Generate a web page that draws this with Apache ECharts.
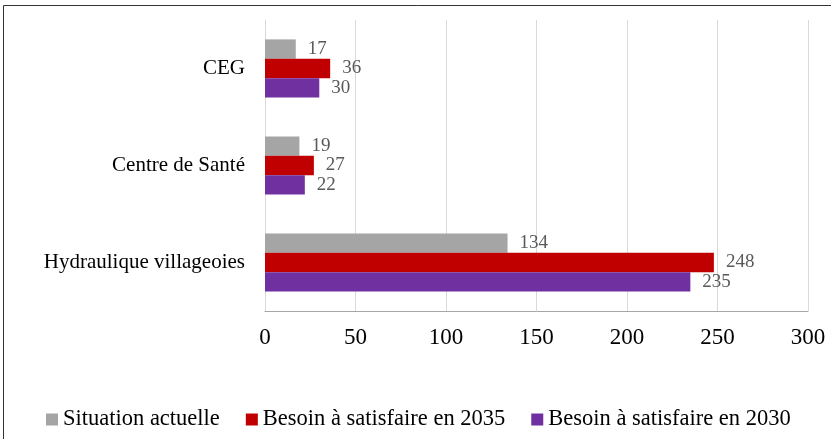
<!DOCTYPE html>
<html><head><meta charset="utf-8">
<script src="https://cdn.jsdelivr.net/npm/echarts@6/dist/echarts.min.js"></script>
<style>html,body{margin:0;padding:0;background:#fff}#c{width:831px;height:439px}</style>
</head><body><div id="c"></div>
<script>
var categories = ['Hydraulique villageoies', 'Centre de Santé', 'CEG'];
var seriesNames = ['Situation actuelle', 'Besoin à satisfaire en 2035', 'Besoin à satisfaire en 2030'];
var situationActuelle = [134, 19, 17];
var besoin2035 = [248, 27, 36];
var besoin2030 = [235, 22, 30];
var xTicks = [0, 50, 100, 150, 200, 250, 300];
var colors = ['#A5A5A5', '#C00000', '#7030A0'];
var values = [situationActuelle, besoin2035, besoin2030];
var font = '"Liberation Serif", "Times New Roman", serif';
var chart = echarts.init(document.getElementById('c'));
chart.setOption({
  animation: false,
  textStyle: {fontFamily: font},
  graphic: [{type: 'rect', shape: {x: 3.5, y: 5.5, width: 900, height: 500}, style: {fill: 'none', stroke: '#333', lineWidth: 1}, silent: true}],
  grid: {left: 265, right: 23, top: 20, bottom: 128, containLabel: false},
  legend: {
    top: 403, left: 41, itemWidth: 12, itemHeight: 12, itemGap: 26,
    icon: 'rect',
    textStyle: {fontFamily: font, fontSize: 22.5, color: '#000'},
    data: seriesNames
  },
  xAxis: {
    type: 'value', min: xTicks[0], max: xTicks[xTicks.length - 1], interval: 50,
    axisLine: {show: true, lineStyle: {color: '#A6A6A6'}},
    axisTick: {show: false},
    axisLabel: {fontFamily: font, fontSize: 23, color: '#000', margin: 15},
    splitLine: {show: true, lineStyle: {color: '#D9D9D9'}}
  },
  yAxis: {
    type: 'category', data: categories,
    axisLine: {show: true, lineStyle: {color: '#D9D9D9'}},
    axisTick: {show: false},
    axisLabel: {fontFamily: font, fontSize: 21, color: '#000', margin: 20}
  },
  series: seriesNames.map(function (n, i) {
    return {
      name: n, type: 'bar', data: values[i], barGap: '0%', barCategoryGap: '40%',
      itemStyle: {color: colors[i]},
      label: {show: true, position: 'right', distance: 12, fontFamily: font, fontSize: 19, color: '#595959'}
    };
  })
});
</script></body></html>
